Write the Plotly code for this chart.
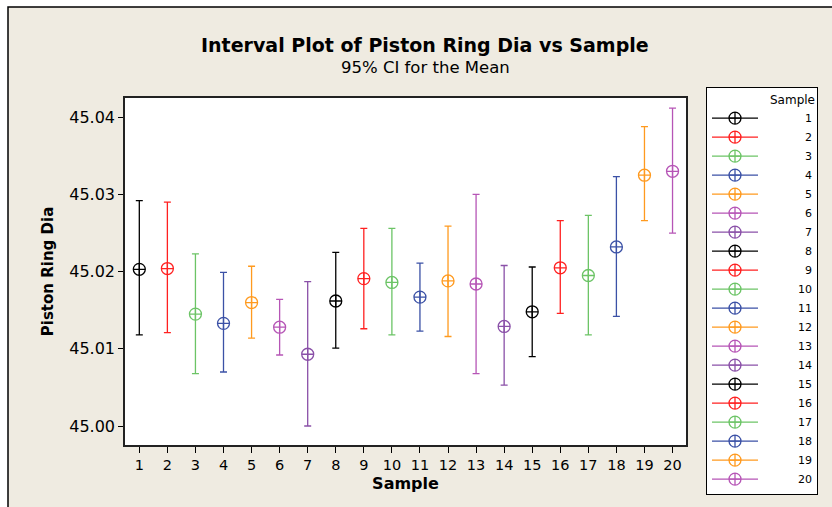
import plotly.graph_objects as go

samples = list(range(1, 21))
means = [45.0203, 45.0204, 45.0145, 45.0133, 45.0160, 45.0128, 45.0093, 45.0162, 45.0191, 45.0186,
         45.0167, 45.0188, 45.0184, 45.0129, 45.0148, 45.0205, 45.0195, 45.0232, 45.0325, 45.0330]
upper = [45.0292, 45.0290, 45.0223, 45.0199, 45.0207, 45.0164, 45.0187, 45.0225, 45.0256, 45.0256,
         45.0211, 45.0259, 45.0300, 45.0208, 45.0206, 45.0266, 45.0273, 45.0323, 45.0388, 45.0412]
lower = [45.0118, 45.0121, 45.0068, 45.0070, 45.0114, 45.0092, 45.0000, 45.0101, 45.0126, 45.0118,
         45.0123, 45.0116, 45.0068, 45.0053, 45.0090, 45.0146, 45.0118, 45.0142, 45.0266, 45.0250]
palette = ["#000000", "#FF2020", "#6CC466", "#3B51A6", "#FF9A1F", "#B655B6", "#8A50A8"]
y_ticks = [45.00, 45.01, 45.02, 45.03, 45.04]

FONT = "DejaVu Sans"
BEIGE = "#EFEBE1"

fig = go.Figure()
for i, s in enumerate(samples):
    c = palette[i % len(palette)]
    lab = str(s) if s >= 10 else "\u2007" + str(s)
    fig.add_trace(go.Scatter(
        x=[s], y=[means[i]], mode="lines+markers", name="\u00a0" * 10 + lab,
        line=dict(color=c, width=1.3),
        marker=dict(symbol="circle-cross-open", size=12, color=c, line=dict(width=1.3, color=c)),
        error_y=dict(type="data", symmetric=False,
                     array=[upper[i] - means[i]], arrayminus=[means[i] - lower[i]],
                     color=c, thickness=1.3, width=3.5),
        showlegend=True,
    ))

L, R, T, B = 125, 686, 98, 445
W, H = 832, 507
pw, ph = R - L, B - T

def px(xp):
    return (xp - L) / pw

def py(yp):
    return (B - yp) / ph

shapes = [
    dict(type="rect", xref="paper", yref="paper", x0=px(8), x1=px(845), y0=py(520), y1=py(7),
         fillcolor=BEIGE, line=dict(color="#000000", width=1.5), layer="below"),
    dict(type="rect", xref="paper", yref="paper", x0=0, x1=1, y0=0, y1=1,
         fillcolor="#FFFFFF", line=dict(width=0), layer="below"),
]

annotations = [
    dict(text="<b>Interval Plot of Piston Ring Dia vs Sample</b>", xref="paper", yref="paper",
         x=px(425), y=py(45), xanchor="center", yanchor="middle", showarrow=False,
         font=dict(family=FONT, size=19, color="#000000")),
    dict(text="95% CI for the Mean", xref="paper", yref="paper",
         x=px(425), y=py(67), xanchor="center", yanchor="middle", showarrow=False,
         font=dict(family=FONT, size=16.5, color="#000000")),
]

fig.update_layout(
    width=W, height=H,
    margin=dict(l=L, r=W - R, t=T, b=H - B, pad=0),
    paper_bgcolor="#FFFFFF", plot_bgcolor="rgba(0,0,0,0)",
    font=dict(family=FONT, color="#000000"),
    shapes=shapes, annotations=annotations,
    showlegend=True,
    legend=dict(x=px(706), y=py(87), xanchor="left", yanchor="top",
                bgcolor="#FFFFFF", bordercolor="#000000", borderwidth=1,
                font=dict(family=FONT, size=11, color="#000000"),
                title=dict(text="Sample", side="top right", font=dict(family=FONT, size=12)),
                itemwidth=46, tracegroupgap=0, itemclick=False, maxheight=500),
    xaxis=dict(range=[0.49, 20.48], tickmode="array", tickvals=samples,
               ticktext=[str(s) for s in samples], ticks="outside", ticklen=6, tickcolor="#000",
               showgrid=False, zeroline=False, showline=True, linecolor="#222", linewidth=1.5,
               mirror=True, tickfont=dict(family=FONT, size=14.5),
               title=dict(text="<b>Sample</b>", font=dict(family=FONT, size=16), standoff=6)),
    yaxis=dict(range=[44.99754, 45.0425], tickmode="array", tickvals=y_ticks,
               ticktext=[f"{v:.2f}" for v in y_ticks], ticks="outside", ticklen=5, tickcolor="#000",
               showgrid=False, zeroline=False, showline=True, linecolor="#222", linewidth=1.5,
               mirror=True, tickfont=dict(family=FONT, size=16),
               title=dict(text="<b>Piston Ring Dia</b>", font=dict(family=FONT, size=15), standoff=12)),
)

fig.write_html("out.html")
